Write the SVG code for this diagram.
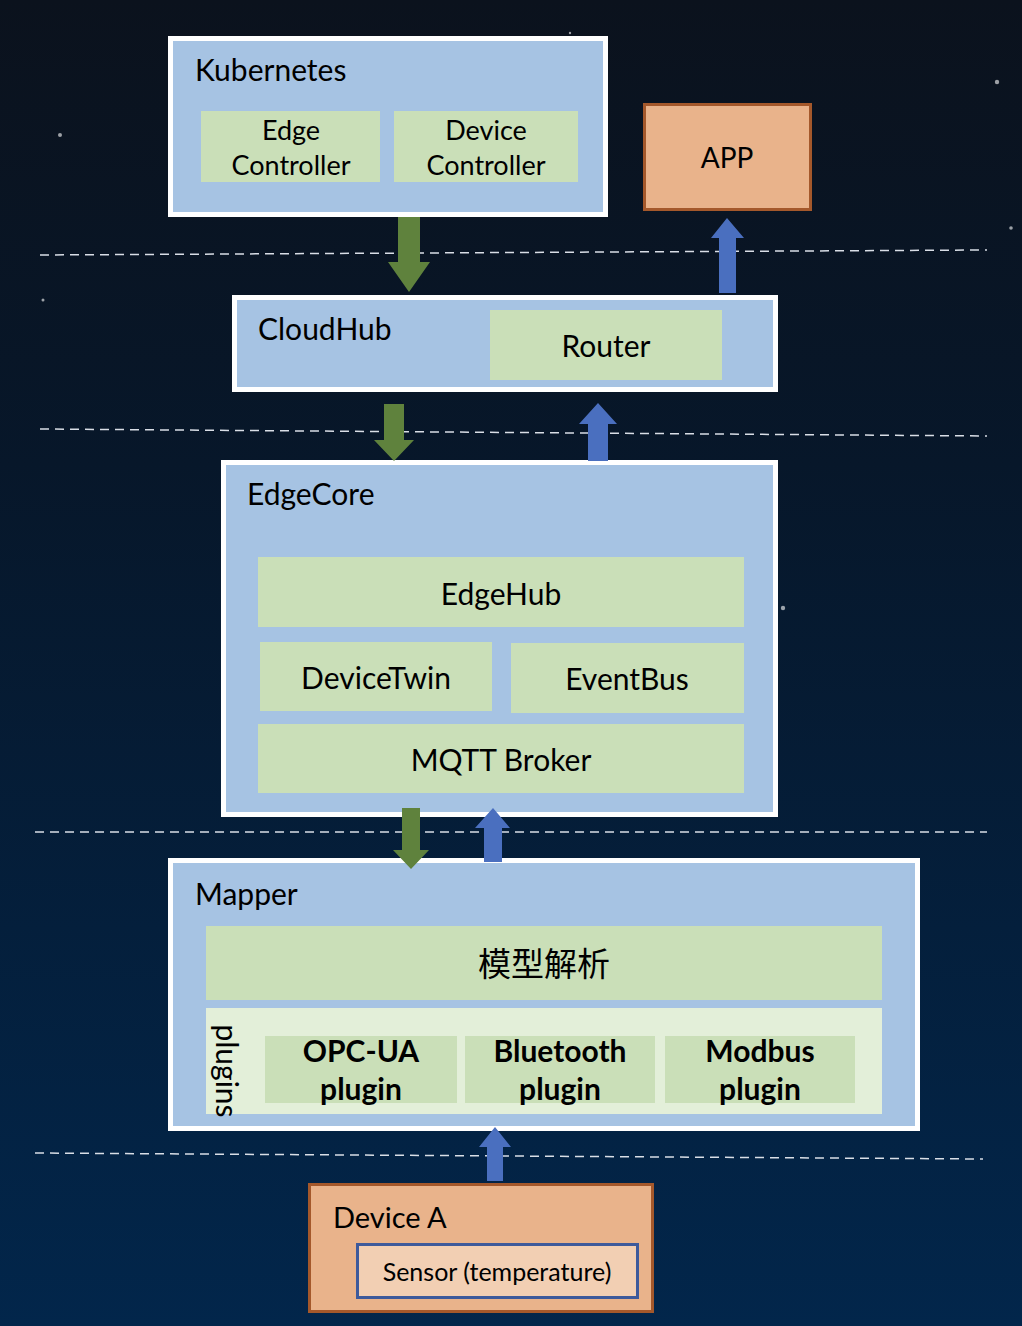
<svg xmlns="http://www.w3.org/2000/svg" width="1022" height="1326" viewBox="0 0 1022 1326">
<defs>
<linearGradient id="bg" x1="0" y1="0" x2="0" y2="1">
<stop offset="0" stop-color="#0b121d"/>
<stop offset="0.35" stop-color="#07172a"/>
<stop offset="0.7" stop-color="#041f3c"/>
<stop offset="1" stop-color="#02264b"/>
</linearGradient>
<style>
.outer{fill:#a6c3e3;stroke:#ffffff;stroke-width:5}
.inner{fill:#cadfb8}
.cont{fill:#e3efd9}
.orange{fill:#e9b38b;stroke:#a4582b;stroke-width:3}
.t{font-family:Lato,"Noto Sans",sans-serif;fill:#000000}
.lbl{font-size:30px}
.sm{font-size:27px;text-anchor:middle}
.mid{font-size:30px;text-anchor:middle}
.bold{font-size:30px;font-weight:bold;text-anchor:middle}
.dash{stroke:#d9dee6;stroke-width:1.5;stroke-dasharray:9 6;fill:none}
.ga{fill:#5f823d}
.ba{fill:#4a6fbf}
.star{fill:#ffffff;opacity:0.6}
</style>
</defs>
<rect x="0" y="0" width="1022" height="1326" fill="url(#bg)"/>
<g id="stars">
<circle class="star" cx="60" cy="135" r="2"/>
<circle class="star" cx="997" cy="82" r="2.2"/>
<circle class="star" cx="1011" cy="228" r="1.8"/>
<circle class="star" cx="43" cy="300" r="1.5"/>
<circle class="star" cx="783" cy="608" r="2.2"/>
<circle class="star" cx="570" cy="33" r="1.2"/>
</g>
<g id="separators">
<line class="dash" x1="40" y1="255" x2="987" y2="250"/>
<line class="dash" x1="40" y1="429" x2="987" y2="436"/>
<line class="dash" x1="35" y1="832" x2="987" y2="832"/>
<line class="dash" x1="35" y1="1153" x2="983" y2="1159"/>
</g>
<g id="kubernetes">
<rect class="outer" x="170.5" y="38.5" width="435" height="176"/>
<text class="t lbl" x="195" y="81">Kubernetes</text>
<g id="edge-controller">
<rect class="inner" x="201" y="111" width="179" height="71"/>
<text class="t sm" x="291" y="140">Edge</text>
<text class="t sm" x="291" y="175">Controller</text>
</g>
<g id="device-controller">
<rect class="inner" x="394" y="111" width="184" height="71"/>
<text class="t sm" x="486" y="140">Device</text>
<text class="t sm" x="486" y="175">Controller</text>
</g>
</g>
<g id="app">
<rect class="orange" x="644.5" y="104.5" width="166" height="105"/>
<text class="t mid" x="727" y="168" style="font-size:28px">APP</text>
</g>
<g id="cloudhub">
<rect class="outer" x="234.5" y="297.5" width="541" height="92"/>
<text class="t lbl" x="258" y="340">CloudHub</text>
<g id="router">
<rect class="inner" x="490" y="310" width="232" height="70"/>
<text class="t mid" x="606" y="357">Router</text>
</g>
</g>
<g id="edgecore">
<rect class="outer" x="223.5" y="462.5" width="552" height="352"/>
<text class="t lbl" x="247" y="505">EdgeCore</text>
<g id="edgehub">
<rect class="inner" x="258" y="557" width="486" height="70"/>
<text class="t mid" x="501" y="605">EdgeHub</text>
</g>
<g id="devicetwin">
<rect class="inner" x="260" y="642" width="232" height="69"/>
<text class="t mid" x="376" y="689">DeviceTwin</text>
</g>
<g id="eventbus">
<rect class="inner" x="511" y="643" width="233" height="70"/>
<text class="t mid" x="627" y="690">EventBus</text>
</g>
<g id="mqtt">
<rect class="inner" x="258" y="724" width="486" height="69"/>
<text class="t mid" x="501" y="771">MQTT Broker</text>
</g>
</g>
<g id="mapper">
<rect class="outer" x="170.5" y="860.5" width="747" height="268"/>
<text class="t lbl" x="195" y="905">Mapper</text>
<g id="model-parse">
<rect class="inner" x="206" y="926" width="676" height="74"/>
<text x="544" y="976" text-anchor="middle" style="font-family:'Noto Sans CJK SC','Noto Sans',sans-serif;font-size:33px;fill:#000">模型解析</text>
</g>
<g id="plugins">
<rect class="cont" x="206" y="1008" width="676" height="106"/>
<text class="t" x="1071" y="-216" text-anchor="middle" transform="rotate(90)" style="font-size:30px">plugins</text>
<g id="opcua">
<rect class="inner" x="265" y="1036" width="192" height="67"/>
<text class="t bold" x="361" y="1062">OPC-UA</text>
<text class="t bold" x="361" y="1100">plugin</text>
</g>
<g id="bluetooth">
<rect class="inner" x="465" y="1036" width="190" height="67"/>
<text class="t bold" x="560" y="1062">Bluetooth</text>
<text class="t bold" x="560" y="1100">plugin</text>
</g>
<g id="modbus">
<rect class="inner" x="665" y="1036" width="190" height="67"/>
<text class="t bold" x="760" y="1062">Modbus</text>
<text class="t bold" x="760" y="1100">plugin</text>
</g>
</g>
</g>
<g id="device-a">
<rect class="orange" x="309.5" y="1184.5" width="343" height="127"/>
<text class="t" x="333" y="1228" style="font-size:29px">Device A</text>
<g id="sensor">
<rect x="357.5" y="1244.5" width="280" height="53" fill="#f2cfb3" stroke="#3e5a9b" stroke-width="3"/>
<text class="t" x="497" y="1281" text-anchor="middle" style="font-size:25px">Sensor (temperature)</text>
</g>
</g>
<g id="connectors">
<polygon class="ga" points="398,217 420,217 420,262 430,262 409,292 388,262 398,262"/>
<polygon class="ba" points="727,218 744,238 736,238 736,293 719,293 719,238 711,238"/>
<polygon class="ga" points="384,404 404,404 404,440 414,440 394,461 374,440 384,440"/>
<polygon class="ba" points="598,403 617,424 608,424 608,461 588,461 588,424 579,424"/>
<polygon class="ga" points="402,808 420,808 420,850 429,850 411,869 393,850 402,850"/>
<polygon class="ba" points="493,808 510,828 502,828 502,862 484,862 484,828 475,828"/>
<polygon class="ba" points="495,1127 511,1147 503,1147 503,1181 487,1181 487,1147 479,1147"/>
</g>
</svg>
